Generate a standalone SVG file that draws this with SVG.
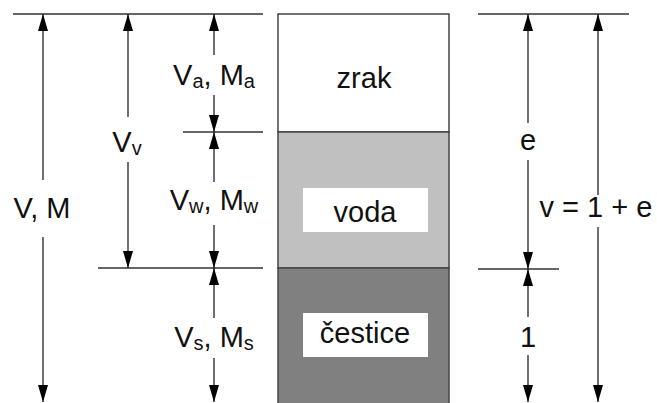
<svg xmlns="http://www.w3.org/2000/svg" width="657" height="403" viewBox="0 0 657 403">
<style>
text{font-family:"Liberation Sans",Arial,sans-serif;font-size:29px;fill:#111;text-anchor:middle}
.sub{font-size:20px}
.dim{stroke:#222;stroke-width:1.3;fill:none}
.ref{stroke:#333;stroke-width:1.5}
.box{stroke:#444;stroke-width:1.5}
</style>
<defs>
<marker id="ah" markerUnits="userSpaceOnUse" markerWidth="17" markerHeight="10" viewBox="0 0 17 10" refX="17" refY="5" orient="auto-start-reverse">
<path d="M0,0 L17,5 L0,10 z" fill="#000"/>
</marker>
</defs>
<rect width="657" height="403" fill="#fff"/>
<g id="column">
<rect id="zrak" x="278" y="14" width="171" height="118" fill="#fff" class="box"/>
<rect id="voda" x="278" y="132" width="171" height="136" fill="#c0c0c0" class="box"/>
<rect id="cestice" x="278" y="268" width="171" height="140" fill="#808080" class="box"/>
<text x="364" y="88">zrak</text>
<rect x="303" y="188" width="125" height="44" fill="#fff"/>
<text x="365" y="222">voda</text>
<rect x="303" y="313" width="125" height="44" fill="#fff"/>
<text x="365" y="343">čestice</text>
</g>
<g id="reference-lines">
<line class="ref" x1="13" y1="14" x2="263" y2="14"/>
<line class="ref" x1="183" y1="132" x2="263" y2="132"/>
<line class="ref" x1="98" y1="268" x2="263" y2="268"/>
<line class="ref" x1="478" y1="14" x2="629" y2="14"/>
<line class="ref" x1="478" y1="269" x2="559" y2="269"/>
</g>
<g id="connectors">
<line class="dim" x1="43" y1="14" x2="43" y2="180" marker-start="url(#ah)"/>
<line class="dim" x1="43" y1="237" x2="43" y2="402" marker-end="url(#ah)"/>
<line class="dim" x1="128" y1="14" x2="128" y2="117" marker-start="url(#ah)"/>
<line class="dim" x1="128" y1="162" x2="128" y2="268" marker-end="url(#ah)"/>
<line class="dim" x1="214" y1="14" x2="214" y2="55" marker-start="url(#ah)"/>
<line class="dim" x1="214" y1="95" x2="214" y2="132" marker-end="url(#ah)"/>
<line class="dim" x1="214" y1="132" x2="214" y2="182" marker-start="url(#ah)"/>
<line class="dim" x1="214" y1="225" x2="214" y2="268" marker-end="url(#ah)"/>
<line class="dim" x1="214" y1="268" x2="214" y2="318" marker-start="url(#ah)"/>
<line class="dim" x1="214" y1="358" x2="214" y2="402" marker-end="url(#ah)"/>
<line class="dim" x1="528" y1="14" x2="528" y2="123" marker-start="url(#ah)"/>
<line class="dim" x1="528" y1="160" x2="528" y2="269" marker-end="url(#ah)"/>
<line class="dim" x1="528" y1="269" x2="528" y2="317" marker-start="url(#ah)"/>
<line class="dim" x1="528" y1="355" x2="528" y2="402" marker-end="url(#ah)"/>
<line class="dim" x1="598" y1="14" x2="598" y2="195" marker-start="url(#ah)"/>
<line class="dim" x1="598" y1="227" x2="598" y2="402" marker-end="url(#ah)"/>
</g>
<g id="labels">
<text x="42" y="218">V, M</text>
<text x="127" y="152">V<tspan class="sub" dy="3">v</tspan></text>
<text x="214" y="85">V<tspan class="sub" dy="3">a</tspan><tspan dy="-3">, M</tspan><tspan class="sub" dy="3">a</tspan></text>
<text x="214" y="210">V<tspan class="sub" dy="3">w</tspan><tspan dy="-3">, M</tspan><tspan class="sub" dy="3">w</tspan></text>
<text x="214" y="347">V<tspan class="sub" dy="3">s</tspan><tspan dy="-3">, M</tspan><tspan class="sub" dy="3">s</tspan></text>
<text x="528" y="150">e</text>
<text x="596" y="217">v = 1 + e</text>
<text x="528" y="347">1</text>
</g>
</svg>
